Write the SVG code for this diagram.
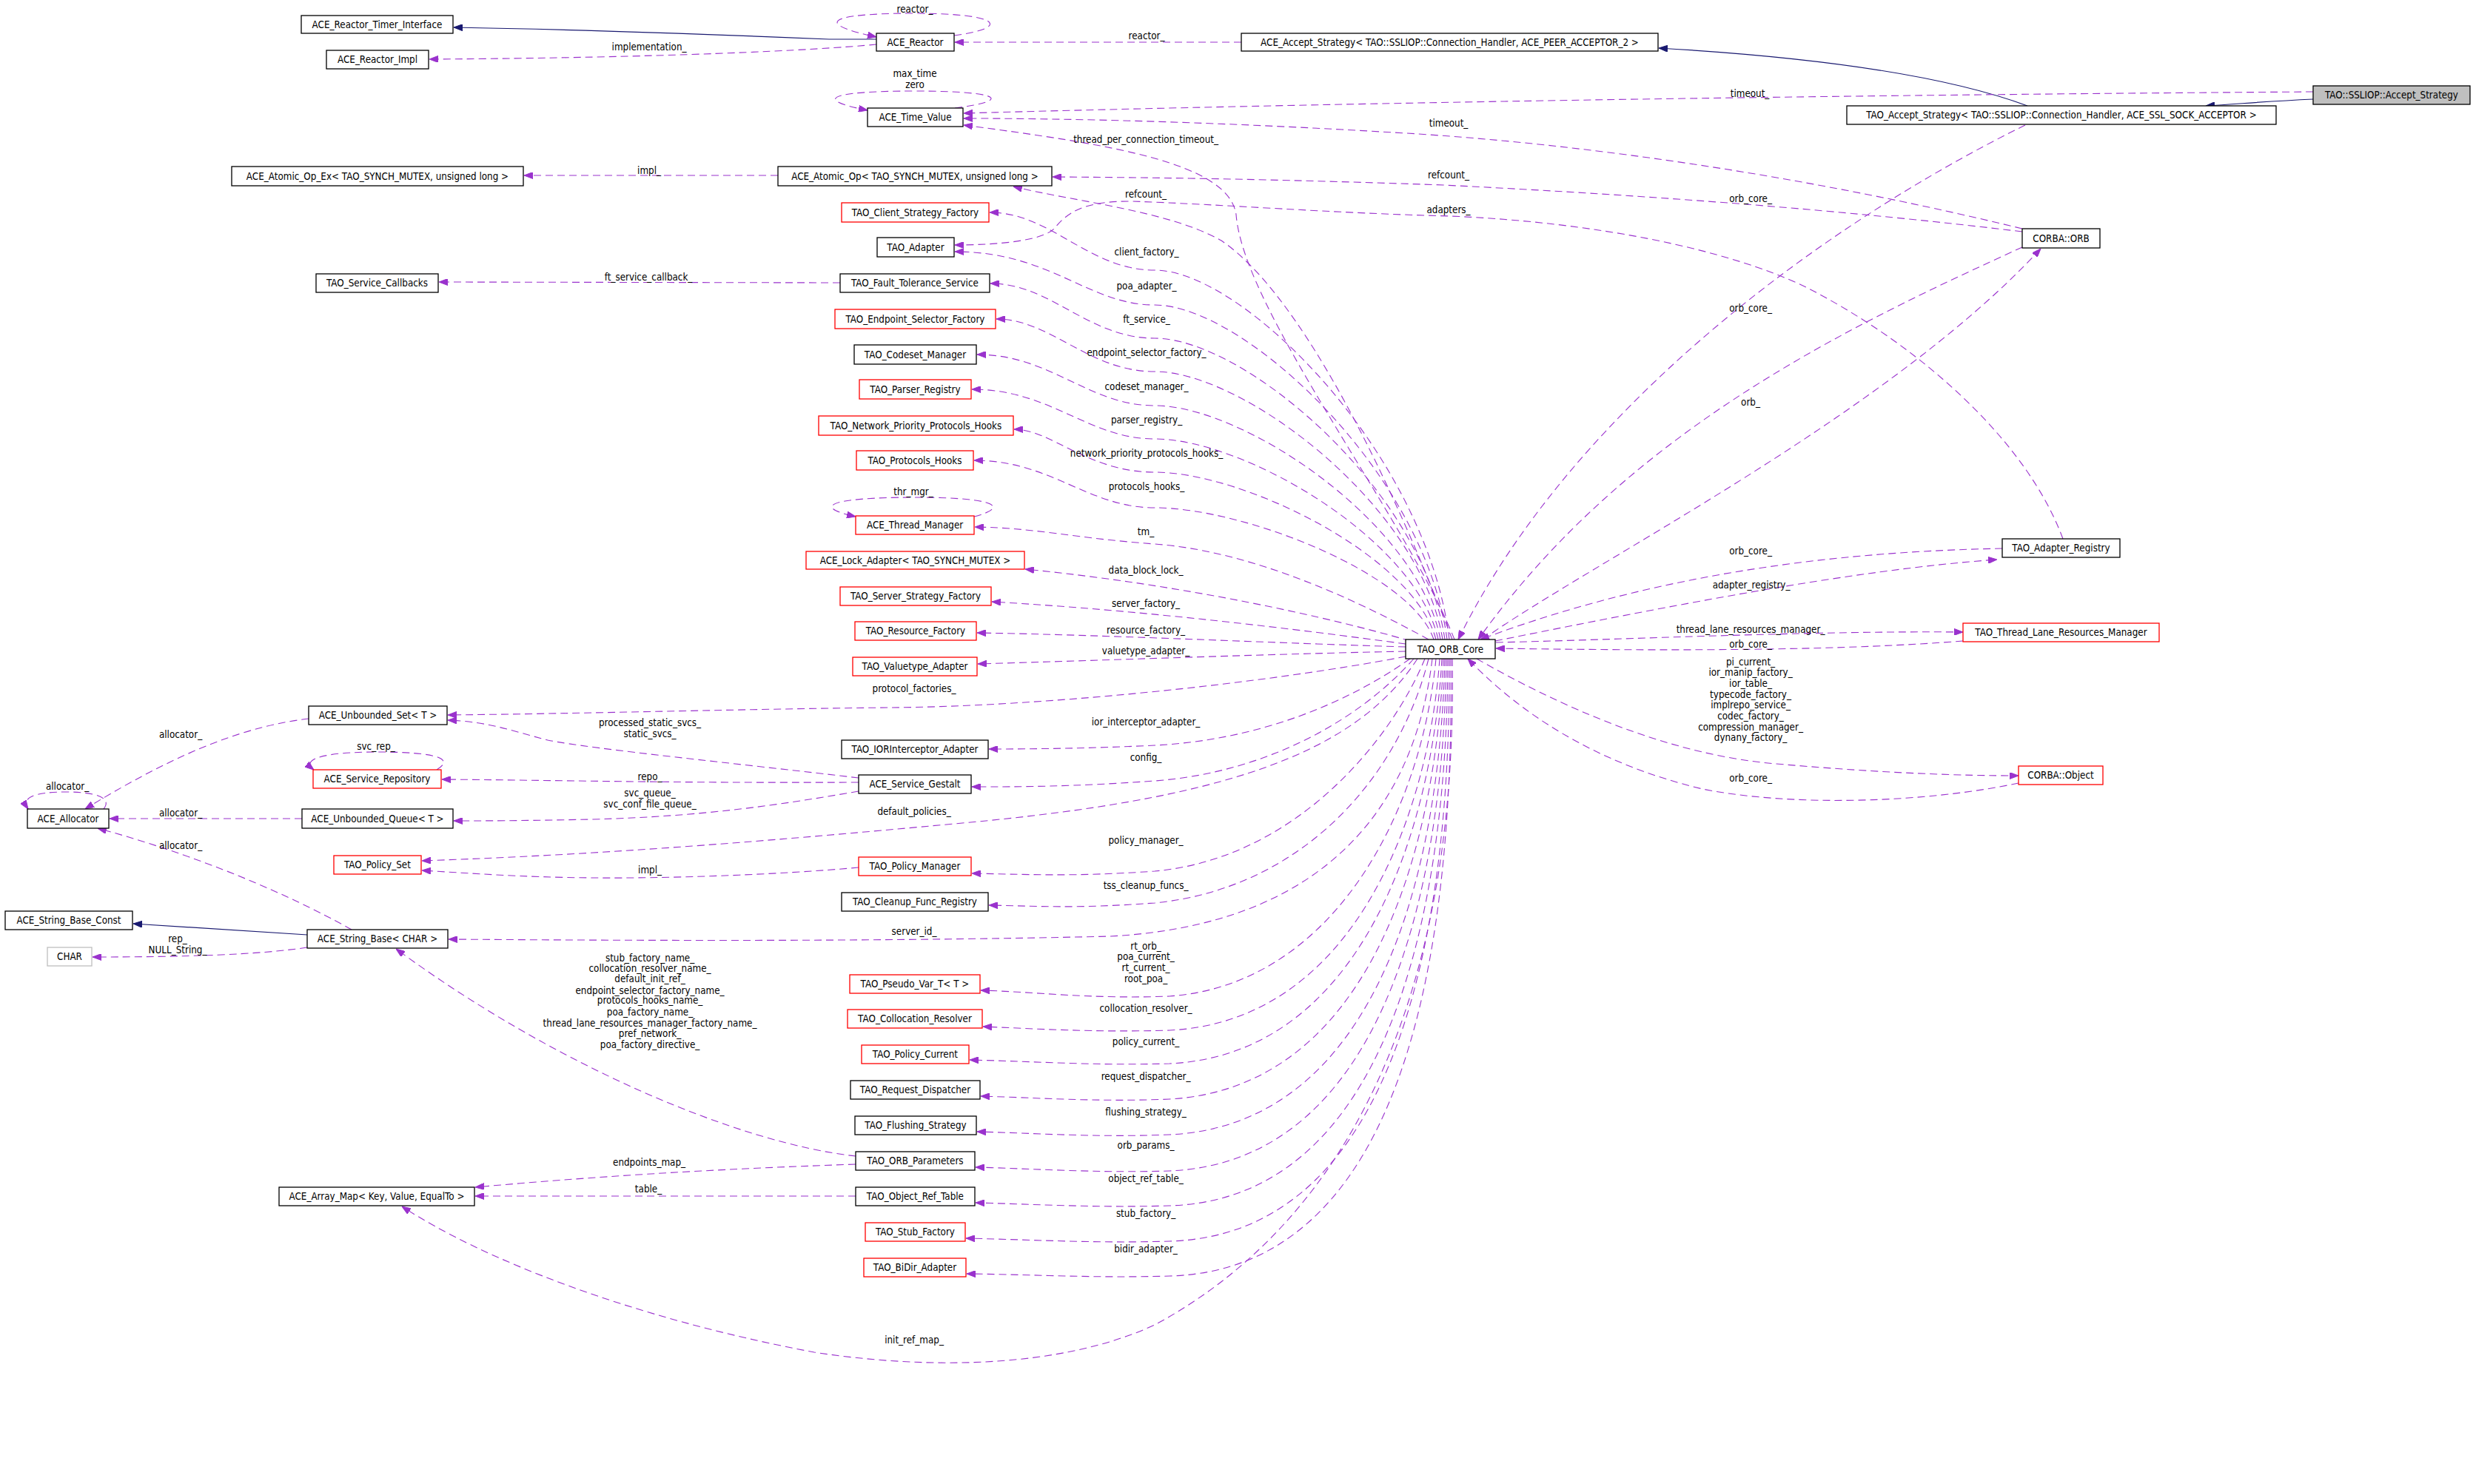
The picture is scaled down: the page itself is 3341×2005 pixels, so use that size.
<svg xmlns="http://www.w3.org/2000/svg" width="3341" height="2005" viewBox="0 0 3341 2005">
<style>
text{font-family:"DejaVu Sans","Liberation Sans",sans-serif;font-size:14px;fill:#000;text-anchor:middle;transform-box:fill-box;transform-origin:center;transform:scaleX(0.857)}
.b{fill:#fff;stroke:#000;stroke-width:1.3}
.r{fill:#fff;stroke:#ff0000;stroke-width:1.3}
.g{fill:#fff;stroke:#bfbfbf;stroke-width:1.3}
.s{fill:#bfbfbf;stroke:#000;stroke-width:1.3}
.u{fill:none;stroke:#9a32cd;stroke-width:1.1;stroke-dasharray:10,6;marker-end:url(#ap)}
.i{fill:none;stroke:#191970;stroke-width:1.2;marker-end:url(#ab)}
</style>
<defs>
<marker id="ap" viewBox="0 0 12 9" refX="12" refY="4.5" markerWidth="12" markerHeight="9" markerUnits="userSpaceOnUse" orient="auto"><path d="M0,0 L12,4.5 L0,9 z" fill="#9a32cd" stroke="#9a32cd"/></marker>
<marker id="ab" viewBox="0 0 12 9" refX="12" refY="4.5" markerWidth="12" markerHeight="9" markerUnits="userSpaceOnUse" orient="auto"><path d="M0,0 L12,4.5 L0,9 z" fill="#191970" stroke="#191970"/></marker>
</defs>
<rect x="0" y="0" width="3341" height="2005" fill="#fff"/>
<g id="connectors">
<path class="i" d="M1184 53 L1120 53 C1000 48,800 40,613 37"/>
<path class="i" d="M2739 143 C2650 110,2500 80,2241 65"/>
<path class="i" d="M3125 134 C3060 137,3030 140,2980 143"/>
<path class="i" d="M415 1263 L180 1248"/>
<path class="u" d="M1184 60 C1100 68,900 78,580 80"/>
<path class="u" d="M1289 48 C1365 38,1355 18,1236 18 C1115 18,1100 32,1184 50"/>
<path class="u" d="M1677 57 L1290 57"/>
<path class="u" d="M1290 146 C1368 136,1355 123,1236 123 C1115 123,1100 135,1172 149"/>
<path class="u" d="M3125 124 C2700 127,2000 134,1302 153"/>
<path class="u" d="M2732 309 C2450 240,2150 195,1900 180 C1700 168,1500 160,1302 160"/>
<path class="u" d="M1965 864 C1900 700,1680 420,1670 290 C1660 220,1500 195,1302 169"/>
<path class="u" d="M1051 237 L708 237"/>
<path class="u" d="M2732 313 C2500 285,2250 265,1950 250 C1750 243,1600 240,1422 239"/>
<path class="u" d="M1962 864 C1880 650,1760 400,1650 325 C1580 285,1450 272,1369 252"/>
<path class="u" d="M2787 728 C2740 600,2600 470,2440 388 C2330 335,2150 300,1960 292 C1800 288,1650 276,1530 272 C1460 271,1440 290,1425 308 C1410 325,1350 331,1290 331"/>
<path class="u" d="M1958 864 C1928 614,1680 365,1560 365 C1470 365,1420 287,1337 287"/>
<path class="u" d="M1955 864 C1925 638,1680 412,1560 412 C1470 412,1420 340,1290 340"/>
<path class="u" d="M1952 864 C1922 660,1680 457,1560 457 C1470 457,1420 383,1338 383"/>
<path class="u" d="M1949 864 C1919 683,1680 502,1560 502 C1470 502,1420 431,1346 431"/>
<path class="u" d="M1946 864 C1916 706,1680 548,1560 548 C1470 548,1420 479,1320 479"/>
<path class="u" d="M1943 864 C1913 728,1680 593,1560 593 C1470 593,1420 526,1313 526"/>
<path class="u" d="M1940 864 C1910 751,1680 638,1560 638 C1470 638,1420 580,1370 580"/>
<path class="u" d="M1937 864 C1907 775,1680 686,1560 686 C1470 686,1420 622,1316 622"/>
<path class="u" d="M1930 864 C1850 820,1700 745,1560 735 C1450 727,1400 713,1317 712"/>
<path class="u" d="M1905 866 C1800 835,1600 790,1385 769"/>
<path class="u" d="M1899 870 C1750 850,1550 825,1340 813"/>
<path class="u" d="M1899 874 C1700 868,1500 858,1320 855"/>
<path class="u" d="M1899 880 C1700 884,1500 892,1321 897"/>
<path class="u" d="M1899 887 C1700 925,1400 955,1200 956 C1000 958,800 964,605 966"/>
<path class="u" d="M1905 890 C1820 950,1700 1000,1560 1007 C1480 1011,1400 1012,1336 1012"/>
<path class="u" d="M1910 890 C1830 980,1700 1045,1560 1055 C1450 1063,1380 1063,1313 1063"/>
<path class="u" d="M1915 890 C1830 1020,1650 1080,1300 1112 C1000 1140,800 1155,570 1163"/>
<path class="u" d="M1925 890 C1880 1000,1750 1160,1560 1177 C1450 1185,1380 1181,1313 1180"/>
<path class="u" d="M1930 890 C1890 1050,1760 1200,1560 1220 C1450 1228,1400 1224,1336 1223"/>
<path class="u" d="M1935 890 C1910 1100,1780 1250,1500 1265 C1200 1272,900 1271,606 1269"/>
<path class="u" d="M1940 890 C1920 1100,1800 1330,1580 1346 C1470 1350,1400 1340,1325 1338"/>
<path class="u" d="M1945 890 C1930 1100,1830 1380,1580 1392 C1480 1395,1400 1390,1328 1387"/>
<path class="u" d="M1948 890 C1935 1120,1840 1425,1580 1437 C1480 1440,1400 1434,1310 1432"/>
<path class="u" d="M1950 890 C1940 1150,1850 1470,1580 1485 C1480 1489,1400 1483,1325 1481"/>
<path class="u" d="M1952 890 C1945 1180,1860 1520,1580 1533 C1480 1537,1400 1531,1320 1529"/>
<path class="u" d="M1954 890 C1950 1200,1870 1570,1580 1582 C1480 1585,1400 1579,1318 1577"/>
<path class="u" d="M1956 890 C1955 1220,1880 1620,1580 1629 C1480 1632,1400 1627,1318 1625"/>
<path class="u" d="M1958 890 C1960 1250,1890 1668,1580 1677 C1480 1680,1400 1675,1305 1673"/>
<path class="u" d="M1960 890 C1965 1280,1900 1715,1580 1724 C1480 1727,1400 1722,1306 1721"/>
<path class="u" d="M1962 890 C1970 1350,1820 1650,1560 1790 C1430 1850,1250 1850,1100 1827 C850 1780,650 1700,543 1630"/>
<path class="u" d="M1135 382 L593 381"/>
<path class="u" d="M1316 698 C1362 686,1352 672,1236 672 C1112 672,1100 686,1156 698"/>
<path class="u" d="M417 971 C340 980,250 1010,115 1093"/>
<path class="u" d="M140 1093 C152 1078,130 1070,90 1070 C45 1070,28 1078,38 1093"/>
<path class="u" d="M408 1106 L148 1106"/>
<path class="u" d="M475 1256 C420 1225,300 1165,132 1119"/>
<path class="u" d="M415 1280 C350 1290,250 1293,125 1293"/>
<path class="u" d="M1160 1051 C1000 1032,800 1012,740 1000 C690 987,660 975,605 973"/>
<path class="u" d="M1160 1057 C900 1058,750 1054,597 1053"/>
<path class="u" d="M1160 1069 C1050 1088,950 1103,800 1107 C700 1109,650 1109,613 1109"/>
<path class="u" d="M590 1040 C615 1025,590 1016,510 1016 C440 1016,405 1025,424 1040"/>
<path class="u" d="M1160 1172 C1050 1182,900 1187,800 1186 C700 1185,640 1180,570 1176"/>
<path class="u" d="M1156 1562 C1000 1545,750 1440,535 1282"/>
<path class="u" d="M1156 1573 C950 1580,800 1590,642 1604"/>
<path class="u" d="M1156 1616 L642 1616"/>
<path class="u" d="M2736 169 C2450 310,2120 560,1970 864"/>
<path class="u" d="M2732 334 C2500 440,2200 580,1997 864"/>
<path class="u" d="M2003 864 C2150 760,2550 560,2757 336"/>
<path class="u" d="M2705 741 C2500 745,2250 770,2000 864"/>
<path class="u" d="M2020 866 C2250 820,2500 770,2698 756"/>
<path class="u" d="M2021 868 C2200 864,2450 852,2652 854"/>
<path class="u" d="M2652 866 C2500 878,2300 880,2021 876"/>
<path class="u" d="M1995 890 C2100 950,2250 1020,2400 1032 C2550 1045,2650 1048,2727 1048"/>
<path class="u" d="M2727 1058 C2600 1085,2420 1090,2300 1066 C2150 1030,2050 960,1983 890"/>
<g id="edge-labels">
<text x="1236" y="17">reactor_</text>
<text x="1549" y="53">reactor_</text>
<text x="877" y="68">implementation_</text>
<text x="1236" y="104">max_time</text>
<text x="1236" y="119">zero</text>
<text x="2364" y="131">timeout_</text>
<text x="1957" y="171">timeout_</text>
<text x="1548" y="193">thread_per_connection_timeout_</text>
<text x="877" y="235">impl_</text>
<text x="1957" y="241">refcount_</text>
<text x="1548" y="267">refcount_</text>
<text x="2365" y="273">orb_core_</text>
<text x="1957" y="288">adapters_</text>
<text x="1549" y="345">client_factory_</text>
<text x="876" y="379">ft_service_callback_</text>
<text x="1549" y="391">poa_adapter_</text>
<text x="2365" y="421">orb_core_</text>
<text x="1549" y="436">ft_service_</text>
<text x="1549" y="481">endpoint_selector_factory_</text>
<text x="1549" y="527">codeset_manager_</text>
<text x="2365" y="548">orb_</text>
<text x="1549" y="572">parser_registry_</text>
<text x="1549" y="617">network_priority_protocols_hooks_</text>
<text x="1549" y="662">protocols_hooks_</text>
<text x="1234" y="669">thr_mgr_</text>
<text x="1548" y="723">tm_</text>
<text x="2365" y="749">orb_core_</text>
<text x="1548" y="775">data_block_lock_</text>
<text x="2366" y="795">adapter_registry_</text>
<text x="1548" y="820">server_factory_</text>
<text x="2365" y="855">thread_lane_resources_manager_</text>
<text x="1548" y="856">resource_factory_</text>
<text x="2365" y="875">orb_core_</text>
<text x="1548" y="884">valuetype_adapter_</text>
<text x="2365" y="899">pi_current_</text>
<text x="2365" y="913">ior_manip_factory_</text>
<text x="2365" y="928">ior_table_</text>
<text x="2365" y="943">typecode_factory_</text>
<text x="2365" y="957">implrepo_service_</text>
<text x="2365" y="972">codec_factory_</text>
<text x="2365" y="987">compression_manager_</text>
<text x="2365" y="1001">dynany_factory_</text>
<text x="1235" y="935">protocol_factories_</text>
<text x="878" y="981">processed_static_svcs_</text>
<text x="878" y="996">static_svcs_</text>
<text x="244" y="997">allocator_</text>
<text x="1548" y="980">ior_interceptor_adapter_</text>
<text x="508" y="1013">svc_rep_</text>
<text x="1548" y="1028">config_</text>
<text x="878" y="1054">repo_</text>
<text x="2365" y="1056">orb_core_</text>
<text x="91" y="1067">allocator_</text>
<text x="878" y="1076">svc_queue_</text>
<text x="878" y="1091">svc_conf_file_queue_</text>
<text x="1235" y="1101">default_policies_</text>
<text x="244" y="1103">allocator_</text>
<text x="1548" y="1140">policy_manager_</text>
<text x="244" y="1147">allocator_</text>
<text x="878" y="1180">impl_</text>
<text x="1548" y="1201">tss_cleanup_funcs_</text>
<text x="1235" y="1263">server_id_</text>
<text x="240" y="1273">rep_</text>
<text x="240" y="1288">NULL_String_</text>
<text x="1548" y="1283">rt_orb_</text>
<text x="1548" y="1297">poa_current_</text>
<text x="1548" y="1312">rt_current_</text>
<text x="1548" y="1327">root_poa_</text>
<text x="878" y="1299">stub_factory_name_</text>
<text x="878" y="1313">collocation_resolver_name_</text>
<text x="878" y="1327">default_init_ref_</text>
<text x="878" y="1343">endpoint_selector_factory_name_</text>
<text x="878" y="1356">protocols_hooks_name_</text>
<text x="878" y="1372">poa_factory_name_</text>
<text x="878" y="1387">thread_lane_resources_manager_factory_name_</text>
<text x="878" y="1401">pref_network_</text>
<text x="878" y="1416">poa_factory_directive_</text>
<text x="1548" y="1367">collocation_resolver_</text>
<text x="1548" y="1412">policy_current_</text>
<text x="1548" y="1459">request_dispatcher_</text>
<text x="1548" y="1507">flushing_strategy_</text>
<text x="1548" y="1552">orb_params_</text>
<text x="877" y="1575">endpoints_map_</text>
<text x="1548" y="1597">object_ref_table_</text>
<text x="876" y="1611">table_</text>
<text x="1548" y="1644">stub_factory_</text>
<text x="1548" y="1692">bidir_adapter_</text>
<text x="1235" y="1815">init_ref_map_</text>
</g>
</g>
<g id="ACE_Reactor_Timer_Interface"><rect class="b" x="407" y="21" width="205" height="24"/><text x="509.5" y="38">ACE_Reactor_Timer_Interface</text></g>
<g id="ACE_Reactor_Impl"><rect class="b" x="441" y="68" width="138" height="25"/><text x="510" y="85.5">ACE_Reactor_Impl</text></g>
<g id="ACE_Reactor"><rect class="b" x="1184" y="45" width="105" height="24"/><text x="1236.5" y="62">ACE_Reactor</text></g>
<g id="ACE_Accept_Strategy"><rect class="b" x="1677" y="45" width="563" height="24"/><text x="1958.5" y="62">ACE_Accept_Strategy&lt; TAO::SSLIOP::Connection_Handler, ACE_PEER_ACCEPTOR_2 &gt;</text></g>
<g id="ACE_Time_Value"><rect class="b" x="1172" y="146" width="129" height="25"/><text x="1236.5" y="163.5">ACE_Time_Value</text></g>
<g id="ACE_Atomic_Op_Ex"><rect class="b" x="313" y="225" width="394" height="26"/><text x="510" y="243">ACE_Atomic_Op_Ex&lt; TAO_SYNCH_MUTEX, unsigned long &gt;</text></g>
<g id="ACE_Atomic_Op"><rect class="b" x="1051" y="225" width="370" height="26"/><text x="1236" y="243">ACE_Atomic_Op&lt; TAO_SYNCH_MUTEX, unsigned long &gt;</text></g>
<g id="TAO_Client_Strategy_Factory"><rect class="r" x="1137" y="274" width="199" height="26"/><text x="1236.5" y="292">TAO_Client_Strategy_Factory</text></g>
<g id="TAO_Adapter"><rect class="b" x="1185" y="321" width="104" height="26"/><text x="1237" y="339">TAO_Adapter</text></g>
<g id="TAO_Service_Callbacks"><rect class="b" x="427" y="370" width="165" height="25"/><text x="509.5" y="387.5">TAO_Service_Callbacks</text></g>
<g id="TAO_Fault_Tolerance_Service"><rect class="b" x="1135" y="370" width="202" height="25"/><text x="1236" y="387.5">TAO_Fault_Tolerance_Service</text></g>
<g id="TAO_Endpoint_Selector_Factory"><rect class="r" x="1128" y="418" width="217" height="26"/><text x="1236.5" y="436">TAO_Endpoint_Selector_Factory</text></g>
<g id="TAO_Codeset_Manager"><rect class="b" x="1154" y="466" width="165" height="26"/><text x="1236.5" y="484">TAO_Codeset_Manager</text></g>
<g id="TAO_Parser_Registry"><rect class="r" x="1161" y="513" width="151" height="26"/><text x="1236.5" y="531">TAO_Parser_Registry</text></g>
<g id="TAO_Network_Priority_Protocols_Hooks"><rect class="r" x="1106" y="562" width="263" height="26"/><text x="1237.5" y="580">TAO_Network_Priority_Protocols_Hooks</text></g>
<g id="TAO_Protocols_Hooks"><rect class="r" x="1157" y="609" width="158" height="26"/><text x="1236" y="627">TAO_Protocols_Hooks</text></g>
<g id="ACE_Thread_Manager"><rect class="r" x="1156" y="697" width="160" height="25"/><text x="1236" y="714.5">ACE_Thread_Manager</text></g>
<g id="ACE_Lock_Adapter"><rect class="r" x="1089" y="745" width="295" height="24"/><text x="1236.5" y="762">ACE_Lock_Adapter&lt; TAO_SYNCH_MUTEX &gt;</text></g>
<g id="TAO_Server_Strategy_Factory"><rect class="r" x="1135" y="793" width="204" height="25"/><text x="1237" y="810.5">TAO_Server_Strategy_Factory</text></g>
<g id="TAO_Resource_Factory"><rect class="r" x="1155" y="840" width="164" height="25"/><text x="1237" y="857.5">TAO_Resource_Factory</text></g>
<g id="TAO_Valuetype_Adapter"><rect class="r" x="1152" y="888" width="168" height="25"/><text x="1236" y="905.5">TAO_Valuetype_Adapter</text></g>
<g id="TAO_IORInterceptor_Adapter"><rect class="b" x="1137" y="1000" width="198" height="25"/><text x="1236" y="1017.5">TAO_IORInterceptor_Adapter</text></g>
<g id="ACE_Service_Gestalt"><rect class="b" x="1160" y="1047" width="152" height="25"/><text x="1236" y="1064.5">ACE_Service_Gestalt</text></g>
<g id="TAO_Policy_Manager"><rect class="r" x="1160" y="1158" width="152" height="25"/><text x="1236" y="1175.5">TAO_Policy_Manager</text></g>
<g id="TAO_Cleanup_Func_Registry"><rect class="b" x="1137" y="1206" width="198" height="25"/><text x="1236" y="1223.5">TAO_Cleanup_Func_Registry</text></g>
<g id="TAO_Pseudo_Var_T"><rect class="r" x="1148" y="1317" width="176" height="25"/><text x="1236" y="1334.5">TAO_Pseudo_Var_T&lt; T &gt;</text></g>
<g id="TAO_Collocation_Resolver"><rect class="r" x="1145" y="1364" width="182" height="25"/><text x="1236" y="1381.5">TAO_Collocation_Resolver</text></g>
<g id="TAO_Policy_Current"><rect class="r" x="1164" y="1412" width="145" height="25"/><text x="1236.5" y="1429.5">TAO_Policy_Current</text></g>
<g id="TAO_Request_Dispatcher"><rect class="b" x="1149" y="1460" width="175" height="25"/><text x="1236.5" y="1477.5">TAO_Request_Dispatcher</text></g>
<g id="TAO_Flushing_Strategy"><rect class="b" x="1155" y="1508" width="164" height="25"/><text x="1237" y="1525.5">TAO_Flushing_Strategy</text></g>
<g id="TAO_ORB_Parameters"><rect class="b" x="1156" y="1556" width="161" height="25"/><text x="1236.5" y="1573.5">TAO_ORB_Parameters</text></g>
<g id="TAO_Object_Ref_Table"><rect class="b" x="1156" y="1604" width="161" height="25"/><text x="1236.5" y="1621.5">TAO_Object_Ref_Table</text></g>
<g id="TAO_Stub_Factory"><rect class="r" x="1169" y="1652" width="135" height="25"/><text x="1236.5" y="1669.5">TAO_Stub_Factory</text></g>
<g id="TAO_BiDir_Adapter"><rect class="r" x="1167" y="1700" width="138" height="25"/><text x="1236" y="1717.5">TAO_BiDir_Adapter</text></g>
<g id="ACE_Unbounded_Set"><rect class="b" x="417" y="954" width="187" height="25"/><text x="510.5" y="971.5">ACE_Unbounded_Set&lt; T &gt;</text></g>
<g id="ACE_Service_Repository"><rect class="r" x="423" y="1040" width="173" height="25"/><text x="509.5" y="1057.5">ACE_Service_Repository</text></g>
<g id="ACE_Allocator"><rect class="b" x="37" y="1093" width="110" height="26"/><text x="92" y="1111">ACE_Allocator</text></g>
<g id="ACE_Unbounded_Queue"><rect class="b" x="408" y="1093" width="204" height="26"/><text x="510" y="1111">ACE_Unbounded_Queue&lt; T &gt;</text></g>
<g id="TAO_Policy_Set"><rect class="r" x="451" y="1156" width="118" height="25"/><text x="510" y="1173.5">TAO_Policy_Set</text></g>
<g id="ACE_String_Base_Const"><rect class="b" x="7" y="1231" width="172" height="25"/><text x="93" y="1248.5">ACE_String_Base_Const</text></g>
<g id="ACE_String_Base"><rect class="b" x="415" y="1256" width="190" height="25"/><text x="510" y="1273.5">ACE_String_Base&lt; CHAR &gt;</text></g>
<g id="CHAR"><rect class="g" x="64" y="1280" width="60" height="25"/><text x="94" y="1297.5">CHAR</text></g>
<g id="ACE_Array_Map"><rect class="b" x="377" y="1604" width="264" height="25"/><text x="509" y="1621.5">ACE_Array_Map&lt; Key, Value, EqualTo &gt;</text></g>
<g id="TAO_SSLIOP_Accept_Strategy"><rect class="s" x="3125" y="116" width="212" height="25"/><text x="3231" y="133.5">TAO::SSLIOP::Accept_Strategy</text></g>
<g id="TAO_Accept_Strategy"><rect class="b" x="2495" y="143" width="580" height="25"/><text x="2785" y="160.5">TAO_Accept_Strategy&lt; TAO::SSLIOP::Connection_Handler, ACE_SSL_SOCK_ACCEPTOR &gt;</text></g>
<g id="CORBA_ORB"><rect class="b" x="2732" y="309" width="105" height="26"/><text x="2784.5" y="327">CORBA::ORB</text></g>
<g id="TAO_Adapter_Registry"><rect class="b" x="2705" y="728" width="159" height="25"/><text x="2784.5" y="745.5">TAO_Adapter_Registry</text></g>
<g id="TAO_Thread_Lane_Resources_Manager"><rect class="r" x="2652" y="842" width="265" height="25"/><text x="2784.5" y="859.5">TAO_Thread_Lane_Resources_Manager</text></g>
<g id="CORBA_Object"><rect class="r" x="2727" y="1035" width="114" height="25"/><text x="2784" y="1052.5">CORBA::Object</text></g>
<g id="TAO_ORB_Core"><rect class="b" x="1899" y="864" width="121" height="26"/><text x="1959.5" y="882">TAO_ORB_Core</text></g>
</svg>
